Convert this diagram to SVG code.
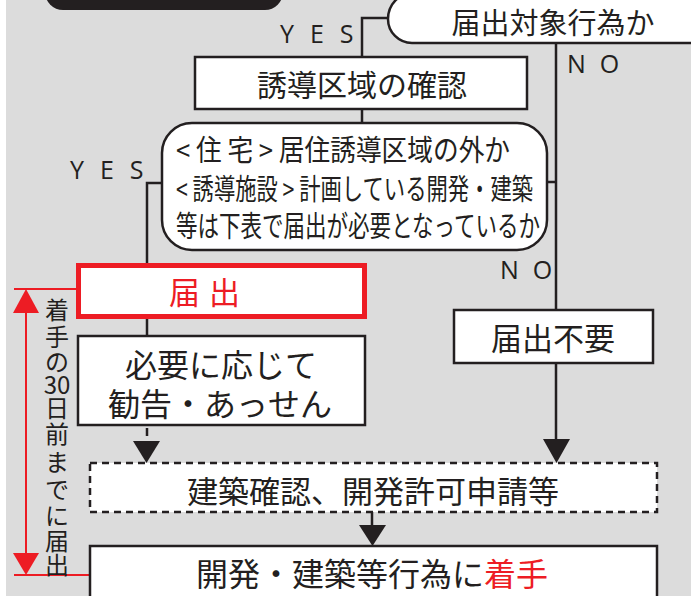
<svg xmlns="http://www.w3.org/2000/svg" width="691" height="596" viewBox="0 0 691 596">
<style>
.jp{font-family:"Noto Sans CJK JP","Noto Sans",sans-serif;fill:#231f20;dominant-baseline:central;text-anchor:middle}
.lat{font-family:"Open Sans","Noto Sans",sans-serif;fill:#231f20;font-size:25px}
.box{fill:#fff;stroke:#231f20;stroke-width:2.5}
.ln{fill:none;stroke:#231f20;stroke-width:2.5}
.red{fill:none;stroke:#ed1c24;stroke-width:2}
.ah{fill:#231f20}
.rah{fill:#ed1c24}
</style>
<rect x="0" y="0" width="691" height="596" fill="#fff"/>
<rect x="6" y="0" width="685" height="596" fill="#dcdcdc"/>
<path id="title-bar" d="M45 -10 H283 V-8 A18 18 0 0 1 265 10 H63 A18 18 0 0 1 45 -8 Z" fill="#231f20"/>

<g id="connectors">
  <polyline class="ln" points="388,18 362,18 362,57"/>
  <line class="ln" x1="362" y1="109" x2="362" y2="123"/>
  <line class="ln" x1="556" y1="43" x2="556" y2="310"/>
  <line class="ln" x1="547" y1="182" x2="556" y2="182"/>
  <line class="ln" x1="556" y1="363" x2="556" y2="441"/>
  <polygon class="ah" points="543,439 570,439 556.5,463"/>
  <polyline class="ln" points="162,183 147,183 147,263"/>
  <line class="ln" x1="147" y1="318" x2="147" y2="336"/>
  <line class="ln" x1="147" y1="428" x2="147" y2="436"/>
  <polygon class="ah" points="133,441 160,441 146.5,463"/>
  <line class="ln" x1="372" y1="512" x2="372" y2="527"/>
  <polygon class="ah" points="359,525 386,525 372.5,546"/>
  <line class="red" x1="14" y1="289" x2="78" y2="289"/>
  <line class="red" x1="14" y1="575" x2="90" y2="575"/>
  <line class="red" x1="26" y1="310" x2="26" y2="556"/>
  <polygon class="rah" points="13,313 39,313 26,289"/>
  <polygon class="rah" points="13,553 39,553 26,575"/>
  <text class="lat" x="280" y="43" letter-spacing="16">YES</text>
  <text class="lat" x="567" y="73" letter-spacing="14">NO</text>
  <text class="lat" x="70" y="179" letter-spacing="16">YES</text>
  <text class="lat" x="500" y="279" letter-spacing="14">NO</text>
  <text class="jp" style="font-size:24px">
    <tspan x="57" y="308">着</tspan><tspan x="57" y="335">手</tspan><tspan x="57" y="360">の</tspan><tspan x="57" y="383">30</tspan><tspan x="57" y="406">日</tspan><tspan x="57" y="432">前</tspan><tspan x="57" y="460">ま</tspan><tspan x="57" y="488">で</tspan><tspan x="57" y="514">に</tspan><tspan x="57" y="539">届</tspan><tspan x="57" y="563">出</tspan>
  </text>
</g>

<g id="start">
  <path class="box" d="M700 -8 H415 A27 27 0 0 0 388 19 A24 24 0 0 0 412 43 H700 Z"/>
  <text class="jp" x="553" y="21" style="font-size:29px">届出対象行為か</text>
</g>

<g id="check-area">
  <rect class="box" x="195" y="57" width="332" height="52"/>
  <text class="jp" x="362" y="83" style="font-size:30px">誘導区域の確認</text>
</g>

<g id="condition">
  <rect class="box" x="162" y="123" width="385" height="127" rx="30" ry="30"/>
  <text class="jp" x="176" y="148" style="font-size:29px;text-anchor:start" textLength="334" lengthAdjust="spacingAndGlyphs">&lt; 住 宅 &gt; 居住誘導区域の外か</text>
  <text class="jp" x="176" y="187" style="font-size:29px;text-anchor:start" textLength="357" lengthAdjust="spacingAndGlyphs">&lt; 誘導施設 &gt; 計画している開発・建築</text>
  <text class="jp" x="176" y="224" style="font-size:29px;text-anchor:start" textLength="364" lengthAdjust="spacingAndGlyphs">等は下表で届出が必要となっているか</text>
</g>

<g id="notify">
  <rect x="78.5" y="265.5" width="286" height="51" fill="#fff" stroke="#ed1c24" stroke-width="5"/>
  <text class="jp" x="169" y="290" style="font-size:31px;fill:#ed1c24;text-anchor:start" letter-spacing="9">届出</text>
</g>

<g id="advice">
  <rect class="box" x="78" y="336" width="287" height="89"/>
  <text class="jp" x="221" y="363" style="font-size:32px">必要に応じて</text>
  <text class="jp" x="220" y="402" style="font-size:32px">勧告・あっせん</text>
</g>

<g id="no-notify">
  <rect class="box" x="454" y="310" width="199" height="53"/>
  <text class="jp" x="553" y="336" style="font-size:31px">届出不要</text>
</g>

<g id="permit">
  <rect x="90" y="463" width="567" height="49" fill="#fff" stroke="#231f20" stroke-width="2.5" stroke-dasharray="7,5"/>
  <text class="jp" x="373" y="489" style="font-size:31px">建築確認、開発許可申請等</text>
</g>

<g id="start-work">
  <rect class="box" x="90" y="546" width="567" height="60"/>
  <text class="jp" x="372" y="572" style="font-size:32px">開発・建築等行為に<tspan style="fill:#ed1c24">着手</tspan></text>
</g>
</svg>
